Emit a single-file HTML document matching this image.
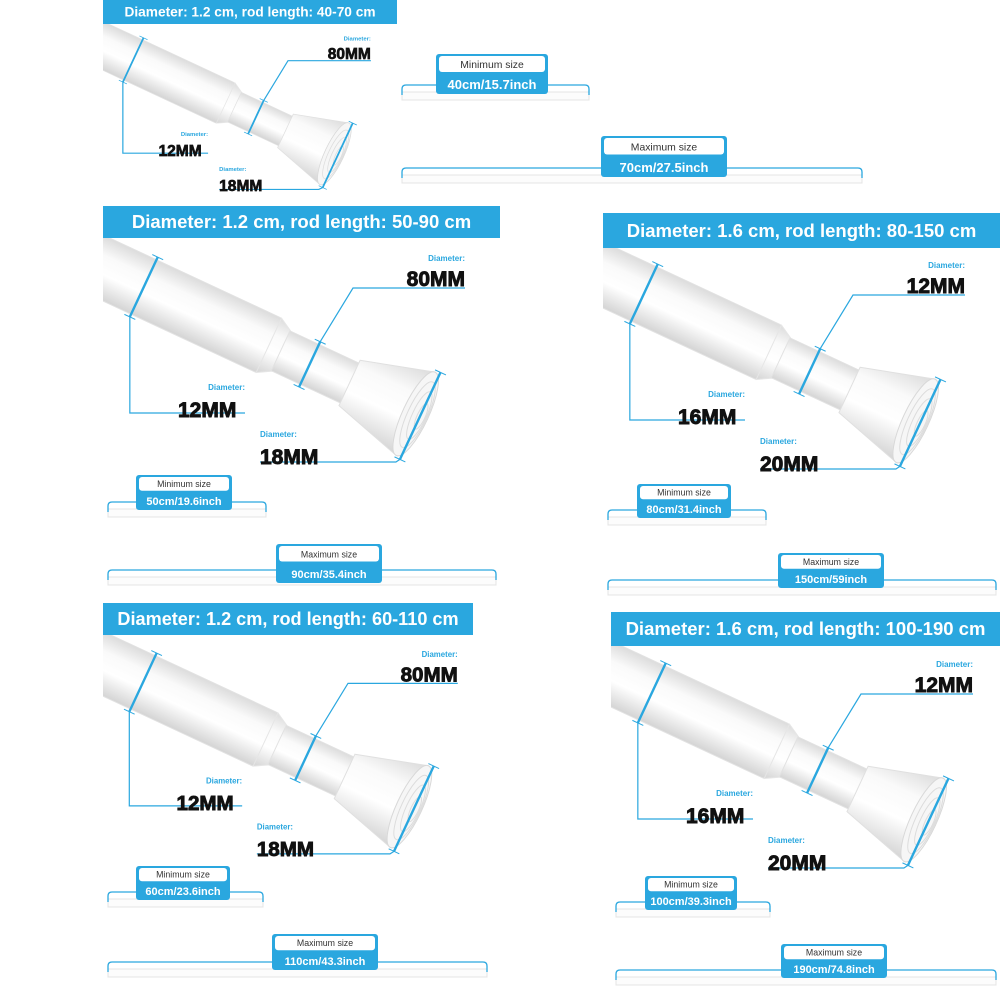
<!DOCTYPE html>
<html><head><meta charset="utf-8"><style>
html,body{margin:0;padding:0;background:#fff;width:1000px;height:1000px;overflow:hidden}
svg text{font-family:"Liberation Sans",sans-serif;font-weight:bold}
</style></head><body>
<svg id="s" width="1000" height="1000" xmlns="http://www.w3.org/2000/svg">
<defs>
<linearGradient id="g" x1="0" y1="0" x2="0" y2="1">
<stop offset="0" stop-color="#dcdcdc"/><stop offset="0.3" stop-color="#fafafa"/><stop offset="0.6" stop-color="#ffffff"/><stop offset="1" stop-color="#d4d4d4"/>
</linearGradient>
</defs>
</svg>
<script>
const B="#2aa7df";
const svg=document.getElementById('s');
let out=svg.innerHTML;
let cid=0;
function panel(ox,oy,w,s,hh,title,labs){
  let h='';
  cid++;
  h+=`<clipPath id="c${cid}"><rect x="${ox}" y="${oy+hh}" width="${w+20}" height="400"/></clipPath>`;
  h+=`<rect x="${ox}" y="${oy}" width="${w}" height="${hh}" fill="${B}"/>`;
  h+=`<text x="${ox+w/2}" y="${oy+hh*0.68}" font-size="${18.5*s}" fill="#fff" text-anchor="middle">${title}</text>`;
  const a=25*Math.PI/180,c=Math.cos(a),sn=Math.sin(a);
  const G=(u,v)=>[ox+s*(u*c-v*sn),oy+s*(62+u*sn+v*c)];
  h+=`<g clip-path="url(#c${cid})"><g transform="translate(${ox},${oy+62*s}) scale(${s}) rotate(25)">`;
  h+=`<rect x="-80" y="-30" width="265" height="60" rx="4" fill="url(#g)" stroke="#e2e2e2" stroke-width="1"/>`;
  h+=`<path d="M183,-30 L197,-22 L197,22 L183,30 Z" fill="url(#g)" stroke="#e6e6e6"/>`;
  h+=`<rect x="196" y="-22" width="80" height="44" fill="url(#g)" stroke="#e2e2e2"/>`;
  h+=`<path d="M272,-25 L345,-46 L345,46 L272,25 Z" fill="url(#g)" stroke="#e0e0e0"/>`;
  h+=`<ellipse cx="345" cy="0" rx="13" ry="46" fill="#f6f6f6" stroke="#d8d8d8"/>`;
  h+=`<ellipse cx="347" cy="0" rx="10" ry="36" fill="none" stroke="#dcdcdc"/>`;
  h+=`<ellipse cx="349" cy="0" rx="7" ry="26" fill="none" stroke="#dcdcdc"/>`;
  h+=`<ellipse cx="351" cy="0" rx="4" ry="14" fill="none" stroke="#dcdcdc"/>`;
  const dl=(u,v1,v2)=>{let p=`<line x1="${u}" y1="${v1}" x2="${u}" y2="${v2}" stroke="${B}" stroke-width="2.4"/>`;
    p+=`<line x1="${u-6}" y1="${v1}" x2="${u+6}" y2="${v1}" stroke="${B}" stroke-width="1"/>`;
    p+=`<line x1="${u-6}" y1="${v2}" x2="${u+6}" y2="${v2}" stroke="${B}" stroke-width="1"/>`;return p;};
  h+=dl(45,-33,33)+dl(228,-25,25)+dl(350,-48,48);
  h+=`</g></g>`;
  const L=(pts)=>`<polyline points="${pts.map(p=>p.join(',')).join(' ')}" fill="none" stroke="${B}" stroke-width="1.2"/>`;
  const R=(x,y)=>[ox+s*x,oy+s*y];
  let p1=G(45,33); h+=L([p1,[p1[0],R(0,207)[1]],R(142,207)]);
  let p2=G(228,-25); h+=L([p2,R(250,82),R(362,82)]);
  let p3=G(350,48); h+=L([p3,[p3[0]-4,R(0,256)[1]],R(157,256)]);
  const T=(x,y,fs,col,anc,t,st)=>{let q=R(x,y);return `<text x="${q[0]}" y="${q[1]}" font-size="${fs*s}" fill="${col}" text-anchor="${anc}"${st?` stroke="${col}" stroke-width="${0.9*s}"`:''}>${t}</text>`;};
  h+=T(362,55,8,B,"end","Diameter:")+T(362,80,21,"#111","end",labs[0],1);
  h+=T(142,184,8,B,"end","Diameter:")+T(75,211,21,"#111","start",labs[1],1);
  h+=T(157,231,8,B,"start","Diameter:")+T(157,258,21,"#111","start",labs[2],1);
  return h;
}
function sz(x1,y1,x2,y2,t1,t2,bx1,bx2,by,fs){
  let h='';
  h+=`<rect x="${bx1}" y="${by+7}" width="${bx2-bx1}" height="8" fill="#fcfcfc" stroke="#e4e4e4" stroke-width="1"/>`;
  h+=`<path d="M${bx1},${by+10} L${bx1},${by+4} Q${bx1},${by} ${bx1+4},${by} L${bx2-4},${by} Q${bx2},${by} ${bx2},${by+4} L${bx2},${by+10}" fill="none" stroke="${B}" stroke-width="1.3"/>`;
  h+=`<rect x="${x1}" y="${y1}" width="${x2-x1}" height="${y2-y1}" rx="3" fill="${B}"/>`;
  const hh=(y2-y1)*0.45;
  h+=`<rect x="${x1+3}" y="${y1+2}" width="${x2-x1-6}" height="${hh-2}" rx="3" fill="#fff"/>`;
  h+=`<text x="${(x1+x2)/2}" y="${y1+hh-4}" font-size="${fs*0.8}" fill="#333" style="font-weight:normal" text-anchor="middle">${t1}</text>`;
  h+=`<text x="${(x1+x2)/2}" y="${y2-5}" font-size="${fs}" fill="#fff" text-anchor="middle">${t2}</text>`;
  return h;
}
let h='';
h+=panel(103,0,294,0.74,24,"Diameter: 1.2 cm, rod length: 40-70 cm",["80MM","12MM","18MM"]);
h+=panel(103,206,397,1,32,"Diameter: 1.2 cm, rod length: 50-90 cm",["80MM","12MM","18MM"]);
h+=panel(603,213,397,1,35,"Diameter: 1.6 cm, rod length: 80-150 cm",["12MM","16MM","20MM"]);
h+=panel(103,603,370,0.98,32,"Diameter: 1.2 cm, rod length: 60-110 cm",["80MM","12MM","18MM"]);
h+=panel(611,612,389,1,34,"Diameter: 1.6 cm, rod length: 100-190 cm",["12MM","16MM","20MM"]);
h+=sz(436,54,548,94,"Minimum size","40cm/15.7inch",402,589,85,13);
h+=sz(601,136,727,177,"Maximum size","70cm/27.5inch",402,862,168,13);
h+=sz(136,475,232,510,"Minimum size","50cm/19.6inch",108,266,502,11);
h+=sz(276,544,382,583,"Maximum size","90cm/35.4inch",108,496,570,11);
h+=sz(637,484,731,518,"Minimum size","80cm/31.4inch",608,766,510,11);
h+=sz(778,553,884,588,"Maximum size","150cm/59inch",608,996,580,11);
h+=sz(136,866,230,900,"Minimum size","60cm/23.6inch",108,263,892,11);
h+=sz(272,934,378,970,"Maximum size","110cm/43.3inch",108,487,962,11);
h+=sz(645,876,737,910,"Minimum size","100cm/39.3inch",616,770,902,11);
h+=sz(781,944,887,978,"Maximum size","190cm/74.8inch",616,996,970,11);
svg.innerHTML=out+h;
</script>
</body></html>
